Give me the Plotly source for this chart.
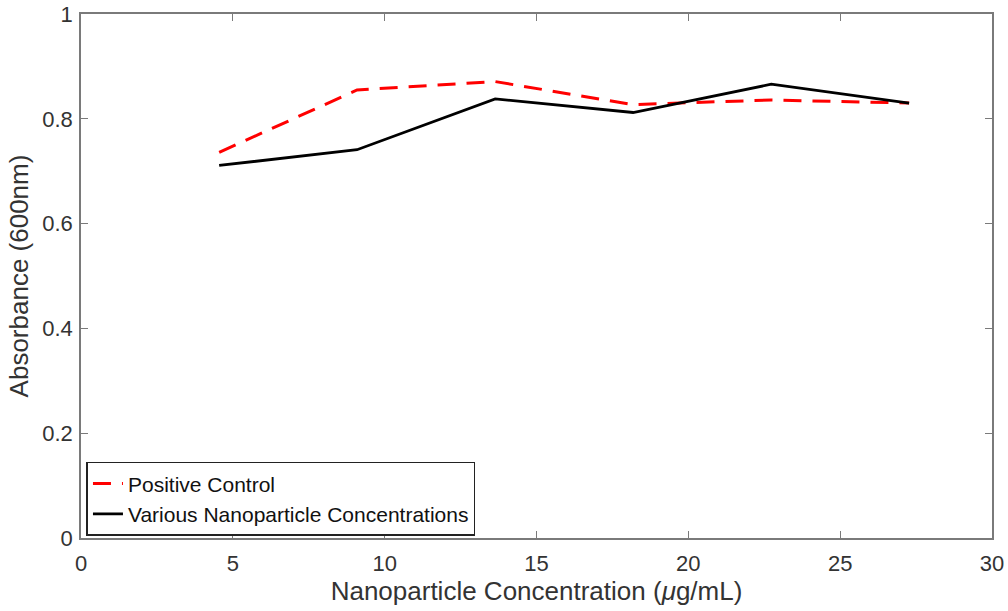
import plotly.graph_objects as go

# Nanoparticle concentrations (µg/mL)
concentration = [4.55, 9.09, 13.64, 18.18, 22.73, 27.27]
# Absorbance readings at 600 nm
positive_control = [0.736, 0.855, 0.871, 0.827, 0.836, 0.830]
nanoparticle = [0.711, 0.741, 0.838, 0.812, 0.866, 0.830]

x_ticks = [0, 5, 10, 15, 20, 25, 30]
y_ticks = [0, 0.2, 0.4, 0.6, 0.8, 1]
y_tick_text = ["0", "0.2", "0.4", "0.6", "0.8", "1"]

font_family = "Liberation Sans, Arial, sans-serif"
axis_grey = "#7a7a7a"
text_grey = "#333333"

fig = go.Figure()
fig.add_trace(go.Scatter(
    x=concentration, y=positive_control, mode="lines",
    name="Positive Control",
    line=dict(color="#ff0000", width=3, dash="18px,11px"),
))
fig.add_trace(go.Scatter(
    x=concentration, y=nanoparticle, mode="lines",
    name="Various Nanoparticle Concentrations",
    line=dict(color="#000000", width=2.8),
))

axis_common = dict(
    showline=True, linecolor=axis_grey, linewidth=1.5,
    mirror="allticks", ticks="inside", ticklen=7, tickcolor=axis_grey,
    showgrid=False, zeroline=False, automargin=False,
    tickfont=dict(family=font_family, size=22, color=text_grey),
)

fig.update_layout(
    width=1008, height=611,
    margin=dict(l=81, r=16, t=14, b=73),
    paper_bgcolor="white", plot_bgcolor="white",
    font=dict(family=font_family, color=text_grey),
    xaxis=dict(
        range=[0, 30], tickvals=x_ticks, ticklabelstandoff=5,
        title=dict(text="Nanoparticle Concentration (<i>μ</i>g/mL)",
                   font=dict(family=font_family, size=26, color=text_grey),
                   standoff=4),
        **axis_common,
    ),
    yaxis=dict(
        range=[0, 1], tickvals=y_ticks, ticktext=y_tick_text,
        ticklabelstandoff=2,
        title=dict(text="Absorbance (600nm)",
                   font=dict(family=font_family, size=26, color=text_grey),
                   standoff=6),
        **axis_common,
    ),
    legend=dict(
        x=0.006, y=0.004, xanchor="left", yanchor="bottom",
        bgcolor="white", bordercolor="#222222", borderwidth=1.5,
        font=dict(family=font_family, size=21, color="#111111"),
        tracegroupgap=0, itemwidth=30,
    ),
    showlegend=True,
)

fig.write_html("out.html")
